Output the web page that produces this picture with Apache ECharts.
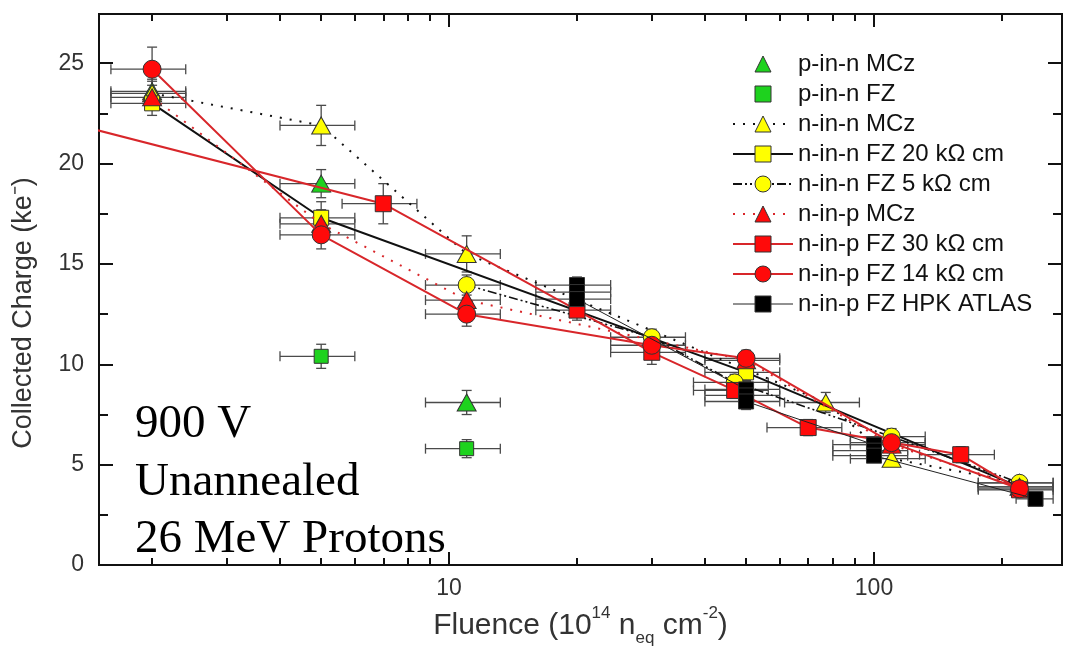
<!DOCTYPE html>
<html><head><meta charset="utf-8">
<script src="https://cdn.jsdelivr.net/npm/echarts@6/dist/echarts.min.js"></script>
<style>html,body{margin:0;padding:0;background:#fff}#c{width:1067px;height:652px}</style>
</head><body><div id="c"></div>
<script>
// ---------- axis ticks ----------
const xMajorTicks = [10, 100];
const xMinorTicks = [2, 3, 4, 5, 6, 7, 8, 9, 20, 30, 40, 50, 60, 70, 80, 90, 200];
const xMin = 1.5, xMax = 277;
const yMin = 0, yMax = 27.45, yMajorStep = 5, yMinorStep = 2.5;

// ---------- data (fluence 1e14 neq/cm2, collected charge ke-) ----------
const pinnMCzX = [2, 5, 11];
const pinnMCzY = [23.6, 19.0, 8.1];
const pinnMCzYErr = [0.6, 0.7, 0.6];
const pinnMCzXErr = [0.2, 0.2, 0.2];

const pinnFZX = [5, 11];
const pinnFZY = [10.4, 5.8];
const pinnFZYErr = [0.6, 0.45];
const pinnFZXErr = [0.2, 0.2];

const ninnMCzX = [2, 5, 11, 77, 110, 220];
const ninnMCzY = [23.5, 21.9, 15.5, 8.1, 5.3, 4.1];
const ninnMCzYErr = [0.6, 1.0, 0.9, 0.5, 0.3, 0.3];
const ninnMCzXErr = [0.2, 0.2, 0.2, 0.2, 0.2, 0.2];

const ninnFZ20X = [2, 5, 50, 220];
const ninnFZ20Y = [23.0, 17.3, 9.6, 3.9];
const ninnFZ20YErr = [0.6, 0.8, 0.4, 0.3];
const ninnFZ20XErr = [0.2, 0.2, 0.2, 0.2];

const ninnFZ5X = [11, 30, 47, 110, 220];
const ninnFZ5Y = [13.95, 11.35, 9.1, 6.4, 4.1];
const ninnFZ5YErr = [0.5, 0.4, 0.4, 0.4, 0.3];
const ninnFZ5XErr = [0.2, 0.2, 0.2, 0.2, 0.2];

const ninpMCzX = [2, 5, 11, 50, 110, 220];
const ninpMCzY = [23.3, 17.0, 13.2, 10.2, 6.0, 3.9];
const ninpMCzYErr = [0.6, 0.7, 0.5, 0.4, 0.3, 0.3];
const ninpMCzXErr = [0.2, 0.2, 0.2, 0.2, 0.2, 0.2];

const ninpFZ30X = [1, 7, 20, 30, 47, 70, 160, 220];
const ninpFZ30Y = [22.6, 18.0, 12.7, 10.6, 8.7, 6.85, 5.5, 3.75];
const ninpFZ30YErr = [0, 1.0, 0.5, 0.6, 0.4, 0.4, 0.4, 0.3];
const ninpFZ30XErr = [0, 0.2, 0.2, 0.2, 0.2, 0.2, 0.2, 0.2];

const ninpFZ14X = [2, 5, 11, 30, 50, 110, 220];
const ninpFZ14Y = [24.7, 16.45, 12.5, 10.95, 10.3, 6.1, 3.8];
const ninpFZ14YErr = [1.1, 0.7, 0.6, 0.4, 0.4, 0.3, 0.3];
const ninpFZ14XErr = [0.2, 0.2, 0.2, 0.2, 0.2, 0.2, 0.2];

const hpkX = [20, 20, 20, 50, 50, 50, 100, 100, 100, 240];
const hpkY = [13.95, 13.6, 13.25, 8.75, 8.45, 8.15, 6.0, 5.7, 5.45, 3.3];
const hpkYErr = [0.4, 0.4, 0.4, 0.4, 0.4, 0.4, 0.3, 0.3, 0.3, 0.3];
const hpkXErr = [0.2, 0.2, 0.2, 0.2, 0.2, 0.2, 0.2, 0.2, 0.2, 0.1];

const names = ['p-in-n MCz', 'p-in-n FZ', 'n-in-n MCz', 'n-in-n FZ 20 kΩ cm', 'n-in-n FZ 5 kΩ cm',
  'n-in-p MCz', 'n-in-p FZ 30 kΩ cm', 'n-in-p FZ 14 kΩ cm', 'n-in-p FZ HPK ATLAS'];

const annotationLines = ['900 V', 'Unannealed', '26 MeV Protons'];

// ---------- styles ----------
const RED = '#d8262a', BLACK = '#111', GREEN = '#1ed21e', YELLOW = '#ffff00', MRED = '#ff0a0a';
const FONT = '"Liberation Sans", Arial, sans-serif';
const specs = [
  {name: names[0], x: pinnMCzX, y: pinnMCzY, ye: pinnMCzYErr, xe: pinnMCzXErr, symbol: 'triangle', size: [19, 17], fill: GREEN, line: {width: 0, color: GREEN}},
  {name: names[1], x: pinnFZX, y: pinnFZY, ye: pinnFZYErr, xe: pinnFZXErr, symbol: 'rect', size: 14, fill: GREEN, line: {width: 0, color: GREEN}},
  {name: names[2], x: ninnMCzX, y: ninnMCzY, ye: ninnMCzYErr, xe: ninnMCzXErr, symbol: 'triangle', size: [19, 17], fill: YELLOW, line: {width: 2, color: BLACK, type: [2, 8]}},
  {name: names[3], x: ninnFZ20X, y: ninnFZ20Y, ye: ninnFZ20YErr, xe: ninnFZ20XErr, symbol: 'rect', size: 15, fill: YELLOW, line: {width: 2, color: BLACK}},
  {name: names[4], x: ninnFZ5X, y: ninnFZ5Y, ye: ninnFZ5YErr, xe: ninnFZ5XErr, symbol: 'circle', size: 17, fill: YELLOW, line: {width: 1.6, color: BLACK, type: [9, 3, 2, 3, 2, 3]}},
  {name: names[5], x: ninpMCzX, y: ninpMCzY, ye: ninpMCzYErr, xe: ninpMCzXErr, symbol: 'triangle', size: [19, 17], fill: MRED, line: {width: 2, color: RED, type: [2, 8]}},
  {name: names[6], x: ninpFZ30X, y: ninpFZ30Y, ye: ninpFZ30YErr, xe: ninpFZ30XErr, symbol: 'rect', size: 16, fill: MRED, line: {width: 2, color: RED}},
  {name: names[7], x: ninpFZ14X, y: ninpFZ14Y, ye: ninpFZ14YErr, xe: ninpFZ14XErr, symbol: 'circle', size: 18, fill: MRED, line: {width: 2, color: RED}},
  {name: names[8], x: hpkX, y: hpkY, ye: hpkYErr, xe: hpkXErr, symbol: 'rect', size: 15, fill: '#000', line: {width: 1, color: '#222'}}
];

const series = [];
// error bars first (drawn underneath)
specs.forEach(function (s) {
  series.push({
    type: 'custom', xAxisIndex: 0, yAxisIndex: 0, z: 1, silent: true, clip: true,
    data: s.x.map(function (x, i) { return [x, s.y[i], x * (1 - s.xe[i]), x * (1 + s.xe[i]), s.y[i] - s.ye[i], s.y[i] + s.ye[i]]; }),
    encode: {x: 0, y: 1},
    renderItem: function (params, api) {
      const c = api.coord([api.value(0), api.value(1)]);
      const l = api.coord([api.value(2), api.value(1)]);
      const r = api.coord([api.value(3), api.value(1)]);
      const b = api.coord([api.value(0), api.value(4)]);
      const t = api.coord([api.value(0), api.value(5)]);
      const cap = 5;
      const st = {stroke: '#4a4a4a', lineWidth: 1.3};
      const ch = [];
      if (r[0] - l[0] > 1) {
        ch.push({type: 'line', shape: {x1: l[0], y1: c[1], x2: r[0], y2: c[1]}, style: st});
        ch.push({type: 'line', shape: {x1: l[0], y1: c[1] - cap, x2: l[0], y2: c[1] + cap}, style: st});
        ch.push({type: 'line', shape: {x1: r[0], y1: c[1] - cap, x2: r[0], y2: c[1] + cap}, style: st});
      }
      if (b[1] - t[1] > 1) {
        ch.push({type: 'line', shape: {x1: c[0], y1: t[1], x2: c[0], y2: b[1]}, style: st});
        ch.push({type: 'line', shape: {x1: c[0] - cap, y1: t[1], x2: c[0] + cap, y2: t[1]}, style: st});
        ch.push({type: 'line', shape: {x1: c[0] - cap, y1: b[1], x2: c[0] + cap, y2: b[1]}, style: st});
      }
      return {type: 'group', children: ch};
    }
  });
});
specs.forEach(function (s, k) {
  series.push({
    name: s.name, type: 'line', xAxisIndex: 0, yAxisIndex: 0, z: 3 + k,
    data: s.x.map(function (x, i) { return [x, s.y[i]]; }),
    symbol: s.symbol, symbolSize: s.size, showAllSymbol: true, clip: true,
    lineStyle: s.line,
    itemStyle: {color: s.fill, borderColor: '#333', borderWidth: 1, opacity: 1},
    emphasis: {disabled: true}, animation: false
  });
});

const axisLineStyle = {color: '#111', width: 2};
function xAx(pos, major) {
  const ticks = major ? xMajorTicks : xMinorTicks;
  const ax = {
    type: 'log', logBase: 10, min: xMin, max: xMax, position: pos, gridIndex: 0,
    axisLine: {show: true, onZero: false, lineStyle: axisLineStyle},
    axisTick: {show: true, inside: true, length: major ? 13 : 7, customValues: ticks, lineStyle: {color: '#111', width: 2}},
    axisLabel: {show: major && pos === 'bottom', customValues: xMajorTicks, fontSize: 23, color: '#333', fontFamily: FONT, margin: 12},
    splitLine: {show: false}, minorTick: {show: false}
  };
  if (major && pos === 'bottom') {
    ax.name = '{b|Fluence (10}{sup|14}{b| n}{sub|eq}{b| cm}{sup|-2}{b|)}';
    ax.nameLocation = 'middle';
    ax.nameGap = 35;
    ax.nameTextStyle = {
      rich: {
        b: {fontSize: 30, color: '#333', fontFamily: FONT, lineHeight: 42},
        sup: {fontSize: 17, color: '#333', fontFamily: FONT, lineHeight: 17, verticalAlign: 'top'},
        sub: {fontSize: 17, color: '#333', fontFamily: FONT, lineHeight: 14, verticalAlign: 'bottom'}
      }
    };
  }
  return ax;
}
function yAx(pos, major) {
  return {
    type: 'value', min: yMin, max: yMax, interval: major ? yMajorStep : yMinorStep, position: pos, gridIndex: 0,
    axisLine: {show: true, onZero: false, lineStyle: axisLineStyle},
    axisTick: {show: true, inside: true, length: major ? 14 : 9, lineStyle: {color: '#111', width: 2}},
    axisLabel: {show: major && pos === 'left', showMaxLabel: false, fontSize: 23, color: '#333', fontFamily: FONT, margin: 15},
    splitLine: {show: false}
  };
}

const legendData = names.map(function (n, i) {
  return i === 8 ? {name: n, lineStyle: {width: 1}} : n;
});

const option = {
  animation: false,
  backgroundColor: '#fff',
  grid: {left: 99, right: 5, top: 14, bottom: 86, containLabel: false},
  xAxis: [xAx('bottom', true), xAx('bottom', false), xAx('top', true), xAx('top', false)],
  yAxis: [yAx('left', true), yAx('left', false), yAx('right', true), yAx('right', false)],
  legend: {
    data: legendData, orient: 'vertical', left: 732, top: 52, padding: 0,
    itemWidth: 60, itemHeight: 20, itemGap: 6, selectedMode: false,
    itemStyle: {borderWidth: 1, borderColor: '#333'},
    textStyle: {fontSize: 24, color: '#111', fontFamily: FONT, lineHeight: 22}
  },
  graphic: [
    {type: 'text', x: 24, y: 313, rotation: Math.PI / 2, silent: true,
     style: {text: 'Collected Charge (ke⁻)', font: '27px ' + FONT, fill: '#333', align: 'center', verticalAlign: 'middle'}},
    {type: 'text', x: 135, y: 425, silent: true, z: 50,
     style: {text: annotationLines[0], font: '47px "Liberation Serif", "Times New Roman", serif', fill: '#000', align: 'left', verticalAlign: 'middle'}},
    {type: 'text', x: 135, y: 483, silent: true, z: 50,
     style: {text: annotationLines[1], font: '47px "Liberation Serif", "Times New Roman", serif', fill: '#000', align: 'left', verticalAlign: 'middle'}},
    {type: 'text', x: 135, y: 540, silent: true, z: 50,
     style: {text: annotationLines[2], font: '47px "Liberation Serif", "Times New Roman", serif', fill: '#000', align: 'left', verticalAlign: 'middle'}}
  ],
  series: series
};
const chart = echarts.init(document.getElementById('c'), null, {renderer: 'canvas'});
chart.setOption(option);
</script></body></html>
